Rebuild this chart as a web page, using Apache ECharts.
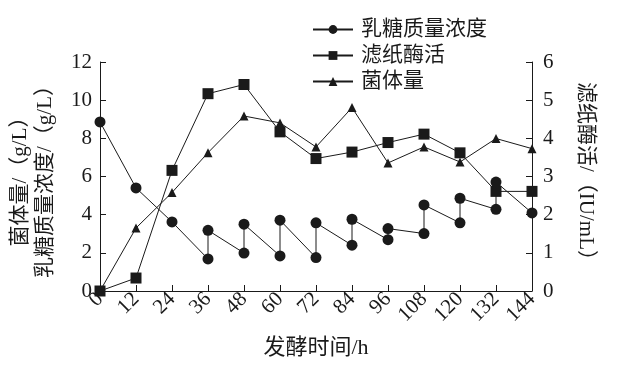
<!DOCTYPE html>
<html><head><meta charset="utf-8">
<script src="https://cdn.jsdelivr.net/npm/echarts@6/dist/echarts.min.js"></script>
<style>html,body{margin:0;padding:0;background:#fff}#c{width:623px;height:369px}</style>
</head><body><div id="c"></div>
<script>
const hours = [0,12,24,36,48,60,72,84,96,108,120,132,144];
const lactoseX = [0,12,24,36,36,48,48,60,60,72,72,84,84,96,96,108,108,120,120,132,132,144];
const lactoseY = [8.86,5.40,3.62,1.68,3.18,1.99,3.50,1.84,3.71,1.75,3.57,2.40,3.76,2.69,3.27,3.01,4.51,3.57,4.86,4.28,5.71,4.09];
const enzyme = [0,0.34,3.16,5.17,5.41,4.17,3.47,3.64,3.89,4.11,3.62,2.61,2.61];
const biomass = [0,3.30,5.16,7.25,9.17,8.81,7.55,9.61,6.71,7.55,6.76,7.99,7.46];
const names = ['乳糖质量浓度','滤纸酶活','菌体量'];

const serif = '"Liberation Serif","Times New Roman",serif';
const cjk = '"Liberation Serif","Noto Sans CJK SC",serif';
const ink = '#1a1a1a';

const chart = echarts.init(document.getElementById('c'), null, {renderer:'canvas'});
const axisCommon = {
  axisLine:{show:true,lineStyle:{color:ink,width:1}},
  axisTick:{show:true,inside:true,length:6,lineStyle:{color:ink}},
  splitLine:{show:false}
};
chart.setOption({
  animation:false,
  backgroundColor:'#fff',
  grid:{left:100,right:91,top:62,bottom:78},
  legend:{
    orient:'vertical',left:307,top:14,itemWidth:40,itemHeight:11,itemGap:5,
    textStyle:{fontFamily:cjk,fontSize:21,color:ink,padding:[0,0,0,3]},
    data:names
  },
  xAxis:Object.assign({},axisCommon,{
    type:'value',min:0,max:144,interval:12,
    name:'发酵时间/h',nameLocation:'middle',nameGap:46,
    nameTextStyle:{fontFamily:cjk,fontSize:22,color:ink},
    axisLabel:{color:ink,fontFamily:serif,fontSize:21,rotate:45,margin:5}
  }),
  yAxis:[
    Object.assign({},axisCommon,{
      type:'value',min:0,max:12,interval:2,position:'left',
      name:'菌体量/（g/L）\n乳糖质量浓度/（g/L）',nameLocation:'middle',nameGap:42,
      nameTextStyle:{fontFamily:cjk,fontSize:21,color:ink,lineHeight:25},
      axisLabel:{color:ink,fontFamily:serif,fontSize:21,margin:8}
    }),
    Object.assign({},axisCommon,{
      type:'value',min:0,max:6,interval:1,position:'right',
      name:'滤纸酶活/（IU/mL）',nameLocation:'middle',nameGap:43,nameRotate:-90,
      nameTextStyle:{fontFamily:cjk,fontSize:21,color:ink},
      axisLabel:{color:ink,fontFamily:serif,fontSize:21,margin:11}
    })
  ],
  series:[
    {name:names[0],type:'line',yAxisIndex:0,clip:false,symbol:'circle',symbolSize:11,
     itemStyle:{color:ink},lineStyle:{color:ink,width:1},
     data:lactoseX.map((x,i)=>[x,lactoseY[i]])},
    {name:names[1],type:'line',yAxisIndex:1,clip:false,symbol:'rect',symbolSize:11,
     itemStyle:{color:ink},lineStyle:{color:ink,width:1},
     data:hours.map((h,i)=>[h,enzyme[i]])},
    {name:names[2],type:'line',yAxisIndex:0,clip:false,symbol:'triangle',symbolSize:9,
     itemStyle:{color:ink},lineStyle:{color:ink,width:1},
     data:hours.map((h,i)=>i===0?{value:[h,biomass[i]],symbol:'none'}:[h,biomass[i]])}
  ]
});
</script></body></html>
